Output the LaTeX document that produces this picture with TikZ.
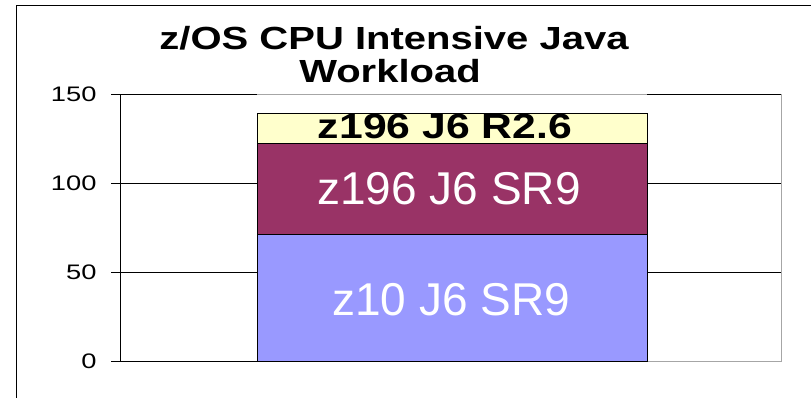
\documentclass[tikz,border=0pt]{standalone}
\usepackage{fontspec}
\setmainfont{Liberation Sans}
\newfontfamily\titlefont{Liberation Sans}[FakeStretch=1.25]
\newfontfamily\tickfont{Liberation Sans}[FakeStretch=1.3]
\newfontfamily\toplabelfont{Liberation Sans}[FakeStretch=1.22]
\definecolor{barblue}{HTML}{9999FF}
\definecolor{barplum}{HTML}{993366}
\definecolor{barcream}{HTML}{FFFFCC}
\tikzset{
  ticklabel/.style={anchor=east, inner sep=0pt, font=\tickfont\fontsize{21}{21}\selectfont},
  barlabel/.style={anchor=base, inner sep=0pt, text=white, font=\fontsize{46}{46}\selectfont},
}

\begin{document}
\begin{tikzpicture}[x=1pt, y=-1pt, line width=1pt]
            \useasboundingbox (0,0) rectangle (811,398);
            % outer chart frame
            \draw (16,398) -- (16,6) -- (811,6);

            \node[anchor=base, inner sep=0pt, font=\titlefont\bfseries\fontsize{32}{32}\selectfont] (title1) at (394,50) {z/OS CPU Intensive Java};
            \node[anchor=base, inner sep=0pt, font=\titlefont\bfseries\fontsize{32}{32}\selectfont] (title2) at (390,83) {Workload};

            \begin{scope}[shift={(120,361)}, y=1.7767pt]
            % plot area
            \draw[gray!70] (0,150) -- (661,150) -- (661,0) -- (0,0);
            \fill[barblue] (137,0) rectangle (527,71.5);
            \fill[barplum] (137,71.5) rectangle (527,122.6);
            \fill[barcream] (137,122.6) rectangle (527,139.6);
            \foreach \v in {50,100,150} {
                \draw (-9,\v) -- (137,\v);
                \draw (527,\v) -- (661,\v);
            }
            \draw[line width=0.8pt] (137,0) rectangle (527,71.5);
            \draw[line width=0.8pt] (137,71.5) rectangle (527,122.6);
            \draw[line width=0.8pt] (137,122.6) rectangle (527,139.6);
            \draw (0,0) -- (0,150);
            \draw (-9,0) -- (137,0);
            \foreach \v in {0,50,100,150}
                \node[ticklabel] (tick\v) at (-23,\v) {\v};
            \end{scope}

            \node[barlabel] (lowlabel) at (451,315) {z10 J6 SR9};
            \node[barlabel] (midlabel) at (449,205) {z196 J6 SR9};
            \node[anchor=base, inner sep=0pt, font=\toplabelfont\bfseries\fontsize{35}{35}\selectfont] (toplabel) at (445,139) {z196 J6 R2.6};
        \end{tikzpicture}
\end{document}
